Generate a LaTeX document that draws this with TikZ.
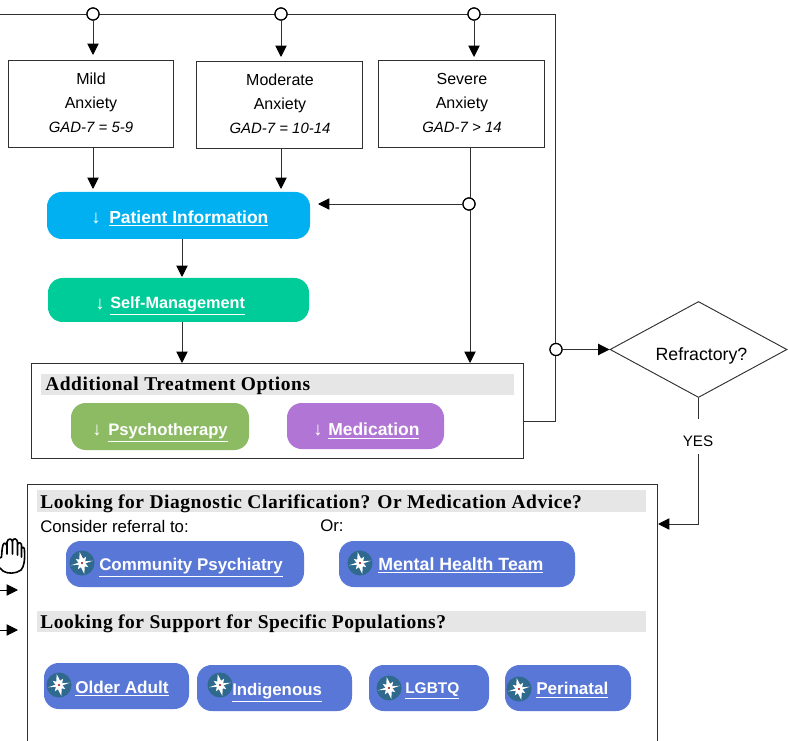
\documentclass[tikz,border=0pt]{standalone}
\usepackage{fontspec}
\usetikzlibrary{shapes.geometric,arrows.meta}
\setmainfont{Liberation Sans}
\newfontfamily\hdfont[LetterSpace=2.8]{Liberation Serif}
\definecolor{ln}{HTML}{303030}
\definecolor{barg}{HTML}{E6E6E6}
\definecolor{pinfo}{HTML}{00B0F0}
\definecolor{smgmt}{HTML}{00CC99}
\definecolor{psyc}{HTML}{8CBB63}
\definecolor{medc}{HTML}{B075D5}
\definecolor{refc}{HTML}{5877D6}
\definecolor{cmp}{HTML}{2F6A8E}
\tikzset{
 conn/.style={draw=ln,line width=0.7pt,-{Triangle[length=8.5pt,width=8.5pt,black]}},
 plain/.style={draw=ln,line width=0.7pt},
 jn/.style={circle,draw=black,fill=white,line width=0.9pt,inner sep=0pt,minimum size=9pt},
 sevbox/.style={rectangle,draw=ln,line width=0.65pt,inner sep=0pt,align=center,font=\fontsize{12}{18}\selectfont},
 pill/.style={rectangle,rounded corners=11pt,inner sep=0pt},
 barbox/.style={rectangle,fill=barg,inner sep=0pt},
 hdr/.style={inner sep=0pt,anchor=west,font=\fontsize{14.6}{16}\hdfont\bfseries},
 txt/.style={inner sep=0pt,anchor=west,font=\fontsize{12.6}{14}\selectfont},
 lbl/.style={inner sep=0pt,anchor=west,text=white},
 arr/.style={inner sep=0pt,text=white,font=\fontsize{14}{16}\selectfont},
 compass/.pic={
  \fill[cmp] (0,0) circle (12.5);
  \begin{scope}[rotate=12]
  \fill[white] (90:11)--(22:3)--(0:11)--(-22:3)--(-90:11)--(-158:3)--(180:11)--(158:3)--cycle;
  \fill[white] (45:7.5)--(0:3)--(-45:7.5)--(-90:3)--(-135:7.5)--(180:3)--(135:7.5)--(90:3)--cycle;
  \end{scope}
  \fill[red!70!black] (0,0) circle (1.1);
 }
}
\newcommand{\gadline}[1]{{\fontsize{11.2}{18}\selectfont\itshape #1}}
\begin{document}
\begin{tikzpicture}[x=0.75pt,y=-0.75pt]
\useasboundingbox (0,0) rectangle (788,741);
\fill[white] (0,0) rectangle (788,741);
% severity boxes
\node[sevbox,minimum width=165*0.75pt,minimum height=87*0.75pt] (mild) at (90.5,103.5) {};
\node[sevbox,minimum width=166*0.75pt,minimum height=87*0.75pt] (mod) at (279,104.5) {};
\node[sevbox,minimum width=166*0.75pt,minimum height=87*0.75pt] (sev) at (461,103.5) {};
\node[inner sep=0pt,align=center,font=\fontsize{12}{18}\selectfont] (mildt) at (91,102.5) {Mild\\Anxiety\\\gadline{GAD-7 = 5-9}};
\node[inner sep=0pt,align=center,font=\fontsize{12}{18}\selectfont] (modt) at (280,103.5) {Moderate\\Anxiety\\\gadline{GAD-7 = 10-14}};
\node[inner sep=0pt,align=center,font=\fontsize{12}{18}\selectfont] (sevt) at (462,102.5) {Severe\\Anxiety\\\gadline{GAD-7 > 14}};
% pills
\node[pill,fill=pinfo,minimum width=263*0.75pt,minimum height=47*0.75pt] (pi) at (178.5,215.5) {};
\node[arr] (pia) at (96,219) {↓};
\node[lbl,font=\fontsize{13.1}{16}\selectfont\bfseries] (pit) at (109,218.5) {\underline{Patient Information}};
\node[pill,fill=smgmt,minimum width=261*0.75pt,minimum height=44*0.75pt] (sm) at (178.5,300) {};
\node[arr] (sma) at (100,305) {↓};
\node[lbl,font=\fontsize{12.2}{16}\selectfont\bfseries] (smt1) at (110,306) {\underline{Self-Management}};
% additional treatment
\node[rectangle,draw=ln,line width=0.65pt,minimum width=492*0.75pt,minimum height=95*0.75pt,inner sep=0pt] (add) at (277,410.5) {};
\node[barbox,minimum width=473*0.75pt,minimum height=21*0.75pt] (addbar) at (277.5,384.5) {};
\node[hdr] (addh) at (45,386) {Additional Treatment Options};
\node[pill,fill=psyc,minimum width=178*0.75pt,minimum height=47*0.75pt] (psy) at (160,426.5) {};
\node[arr] (psya) at (97,431) {↓};
\node[lbl,font=\fontsize{12.5}{16}\selectfont\bfseries] (psyt) at (108,433) {\underline{Psychotherapy}};
\node[pill,fill=medc,minimum width=157*0.75pt,minimum height=46*0.75pt] (med) at (365.5,426) {};
\node[arr] (meda) at (318,431) {↓};
\node[lbl,font=\fontsize{13.1}{16}\selectfont\bfseries] (medt) at (328,431) {\underline{Medication}};
% refractory
\node[diamond,draw=ln,line width=0.7pt,inner sep=0pt,aspect=1.84,minimum width=177*0.75pt,minimum height=96*0.75pt] (ref) at (698.5,349.5) {};
\node[inner sep=0pt,font=\fontsize{13.3}{14}\selectfont] (reft) at (701.5,355.5) {Refractory?};
% lower box
\node[rectangle,draw=ln,line width=0.65pt,minimum width=630*0.75pt,minimum height=300*0.75pt,inner sep=0pt] (low) at (342,634) {};
\node[barbox,minimum width=609*0.75pt,minimum height=22*0.75pt] (bar1) at (341.5,501) {};
\node[hdr] (h1) at (40,503.5) {Looking for Diagnostic Clarification? Or Medication Advice?};
\node[txt] (cons) at (40,526) {Consider referral to:};
\node[txt] (orr) at (320,526) {Or:};
\node[barbox,minimum width=609*0.75pt,minimum height=21*0.75pt] (bar2) at (341.5,621.5) {};
\node[hdr] (h2) at (40,623.5) {Looking for Support for Specific Populations?};
% referral pills
\tikzset{refpill/.style={pill,fill=refc,minimum height=46*0.75pt}}
\node[refpill,minimum width=238*0.75pt] (cp) at (185,564) {};
\node[refpill,minimum width=236*0.75pt] (mht) at (457,564) {};
\node[refpill,minimum width=145*0.75pt] (oa) at (116.5,686) {};
\node[refpill,minimum width=155*0.75pt] (ind) at (274.5,688) {};
\node[refpill,minimum width=120*0.75pt] (lg) at (429,688) {};
\node[refpill,minimum width=126*0.75pt] (per) at (568,688) {};
\node[lbl,font=\fontsize{12.7}{15}\selectfont\bfseries] (cpt) at (99,567.5) {\underline{Community Psychiatry}};
\node[lbl,font=\fontsize{13.3}{15}\selectfont\bfseries] (mhtt) at (378,565.5) {\underline{Mental Health Team}};
\node[lbl,font=\fontsize{12.85}{15}\selectfont\bfseries] (oat) at (75,688.5) {\underline{Older Adult}};
\node[lbl,font=\fontsize{12.6}{15}\selectfont\bfseries] (indt) at (232,692.5) {\underline{Indigenous}};
\node[lbl,font=\fontsize{11.6}{15}\selectfont\bfseries] (lgt) at (405,691) {\underline{LGBTQ}};
\node[lbl,font=\fontsize{12.8}{15}\selectfont\bfseries] (pert) at (536,690) {\underline{Perinatal}};
\pic at (82,563) {compass};
\pic at (360,563) {compass};
\pic at (59,685) {compass};
\pic at (220,685) {compass};
\pic at (389,688) {compass};
\pic at (519,689) {compass};
% junctions
\coordinate (tl) at (0,14);
\coordinate (trc) at (555,14);
\node[jn] (j1) at (93,14) {};
\node[jn] (j2) at (281,14) {};
\node[jn] (j3) at (474,14) {};
\node[jn] (j4) at (469,204) {};
\node[jn] (j5) at (556,349.5) {};
\coordinate (a1) at (93,55);
\coordinate (a2) at (281,57);
\coordinate (a3) at (474,57);
\coordinate (b1) at (93,189);
\coordinate (b2) at (281,189);
\coordinate (sevd) at (470,147);
\coordinate (addt) at (470,363);
\coordinate (pie) at (318,204);
\coordinate (pib) at (182,239);
\coordinate (smt) at (182,277);
\coordinate (smb) at (182,322);
\coordinate (addi) at (182,363);
\coordinate (addr) at (524,421);
\coordinate (yc) at (698.5,524);
\coordinate (lowe) at (658,524);
\coordinate (m1) at (93,147);
\coordinate (m2) at (281,148);
\coordinate (ytop) at (698.5,419);
\coordinate (ybot) at (698.5,454);
\coordinate (rb) at (555,421);
% connectors
\draw[plain] (tl) -- (trc) -- (rb) -- (addr);
\draw[conn] (j1) -- (a1);
\draw[conn] (j2) -- (a2);
\draw[conn] (j3) -- (a3);
\draw[conn] (m1) -- (b1);
\draw[conn] (m2) -- (b2);
\draw[conn] (sevd) -- (addt);
\draw[conn] (j4) -- (pie);
\draw[conn] (pib) -- (smt);
\draw[conn] (smb) -- (addi);
\draw[conn] (j5) -- (ref.west);
\draw[plain] (ref.south) -- (ytop);
\node[inner sep=0pt,font=\fontsize{11.4}{14}\selectfont] (yes) at (698,441.5) {YES};
\draw[plain] (ybot) -- (yc);
\draw[conn] (yc) -- (lowe);
\node[jn] at (j1) {};\node[jn] at (j2) {};\node[jn] at (j3) {};\node[jn] at (j4) {};\node[jn] at (j5) {};
% left fragments
\coordinate (l1s) at (0,590);\coordinate (l1e) at (18,590);
\coordinate (l2s) at (0,630);\coordinate (l2e) at (18,630);
\draw[conn,draw=black] (l1s) -- (l1e);
\draw[conn,draw=black] (l2s) -- (l2e);
\draw[black,line width=1.2pt,line cap=round,line join=round]
 (0,558) -- (1.5,557) .. controls (2,552) and (2,548) .. (3,545) .. controls (4,542) and (6,543) .. (7,546) -- (7,554)
 (7,554) -- (7,542) .. controls (8,538) and (12,538) .. (12.5,542) -- (12.5,554)
 (12.5,554) -- (12.5,541) .. controls (13,538) and (17,538) .. (17.5,542) -- (17.5,555)
 (17.5,555) -- (17.5,545) .. controls (18,542) and (21,542) .. (21.5,545) -- (21.5,557)
 (21.5,557) -- (21.5,549) .. controls (22,546) and (25,547) .. (24.5,551) .. controls (25,560) and (24,567) .. (21,570) .. controls (16,574) and (7,574) .. (3,571) -- (0,568);
\end{tikzpicture}
\end{document}
